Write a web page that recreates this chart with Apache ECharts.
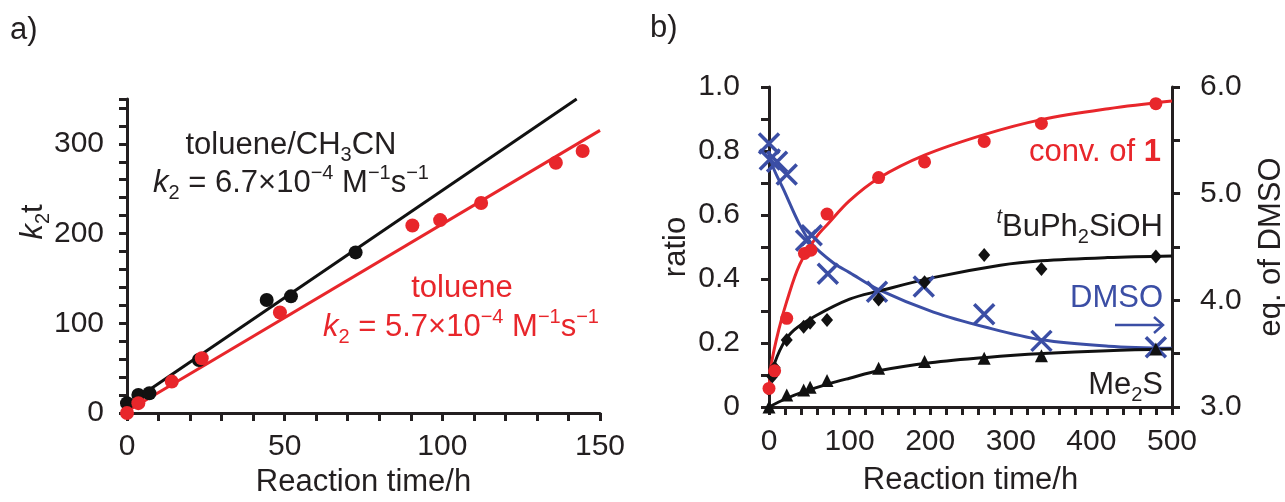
<!DOCTYPE html>
<html>
<head>
<meta charset="utf-8">
<script src="https://cdn.jsdelivr.net/npm/echarts@6/dist/echarts.min.js"></script>
<style>
  html, body { margin: 0; padding: 0; background: #fff; }
  #chart { width: 1285px; height: 502px; }
</style>
</head>
<body>
<div id="chart"></div>
<script>
// a) k2t vs time
const aTimeMixed = [0, 3.6, 7.1, 22.8, 44.3, 52, 72.5]
const aK2tMixed = [11, 20, 22, 59, 126, 130, 179]
const aTimeTol = [0, 3.6, 14.2, 23.7, 48.5, 90.5, 99.3, 112.3, 136, 144.5]
const aK2tTol = [0, 11, 35, 61, 112, 209, 215, 234, 279, 292]
const aFitMixedT = [0, 142.6]
const aFitMixedY = [9, 350]
const aFitTolT = [0, 150]
const aFitTolY = [2, 315]

// b) ratio / eq. of DMSO vs time
const bTimeConv = [0, 7, 22, 44, 52, 72, 136, 193, 267, 338, 480]
const bConv = [0.058, 0.113, 0.277, 0.48, 0.49, 0.603, 0.717, 0.766, 0.83, 0.886, 0.948]
const bTimeSil = [0, 4, 7, 22, 43, 51, 72, 136, 193, 267, 338, 480]
const bSil = [0.055, 0.095, 0.123, 0.209, 0.251, 0.263, 0.272, 0.336, 0.39, 0.475, 0.431, 0.47]
const bTimeMe2S = [0, 22, 43, 51, 72, 136, 193, 267, 338, 480]
const bMe2S = [0, 0.0375, 0.0535, 0.062, 0.083, 0.121, 0.142, 0.152, 0.16, 0.181]
const bTimeDmso = [0, 1, 10, 22, 46, 53, 73, 134, 192, 267, 338, 480]
const bDmsoEq = [5.47, 5.32, 5.30, 5.18, 4.56, 4.61, 4.25, 4.08, 4.13, 3.87, 3.62, 3.56]

// fitted curves
const bFitConvT = [0, 3, 12, 22, 38, 59, 73, 100, 136, 193, 268, 338, 421, 500]
const bFitConv = [0.055, 0.135, 0.24, 0.33, 0.445, 0.532, 0.572, 0.645, 0.715, 0.787, 0.852, 0.898, 0.932, 0.956]
const bFitSilT = [0, 4, 17, 31, 58, 100, 136, 205, 287, 338, 420, 500]
const bFitSil = [0.06, 0.115, 0.195, 0.24, 0.285, 0.337, 0.362, 0.405, 0.443, 0.457, 0.467, 0.472]
const bFitMeT = [0, 20, 40, 75, 100, 136, 200, 270, 340, 420, 500]
const bFitMe = [0, 0.025, 0.045, 0.073, 0.09, 0.113, 0.138, 0.155, 0.167, 0.176, 0.181]
const bFitDmsoT = [0, 5, 18, 38, 53, 80, 100, 136, 204, 268, 338, 421, 500]
const bFitDmso = [5.40, 5.25, 5.04, 4.71, 4.53, 4.35, 4.26, 4.10, 3.89, 3.75, 3.63, 3.57, 3.55]

const FF = "'Liberation Sans', Arial, sans-serif"
const INK = '#231f20'
const RED = '#e8262b'
const BLUE = '#3b4ea5'
const TXT = 31

const zip = (xs, ys) => xs.map((x, i) => [x, ys[i]])

function axisBase(extra) {
  return Object.assign({
    type: 'value',
    axisLine: { show: true, onZero: false, lineStyle: { color: INK, width: 3 } },
    axisTick: { show: true, inside: false, length: 8, lineStyle: { color: INK, width: 3 } },
    axisLabel: { color: INK, fontSize: 30, fontFamily: FF },
    splitLine: { show: false },
    nameTextStyle: { color: INK, fontSize: TXT, fontFamily: FF }
  }, extra)
}

function richFor(color) {
  return {
    k: { fontFamily: FF, fontSize: TXT, fontStyle: 'italic', fill: color },
    s: { fontFamily: FF, fontSize: 20, verticalAlign: 'bottom', fill: color },
    p: { fontFamily: FF, fontSize: 20, verticalAlign: 'top', fill: color },
    b: { fontFamily: FF, fontSize: TXT, fontWeight: 'bold', fill: color },
    i: { fontFamily: FF, fontSize: 20, fontStyle: 'italic', verticalAlign: 'top', fill: color }
  }
}

function label(text, x, y, color, align, extra) {
  return Object.assign({
    type: 'text',
    style: {
      text: text, x: x, y: y, fill: color,
      fontFamily: FF, fontSize: TXT, lineHeight: 40,
      textAlign: align, textVerticalAlign: 'middle',
      rich: richFor(color)
    }
  }, extra || {})
}

function curve(xIdx, yIdx, data, color) {
  return { type: 'line', xAxisIndex: xIdx, yAxisIndex: yIdx, data: data, showSymbol: false,
    smooth: 0.35, lineStyle: { color: color, width: 3 }, z: 2 }
}

function dots(xIdx, yIdx, data, symbol, size, color) {
  return { type: 'scatter', xAxisIndex: xIdx, yAxisIndex: yIdx, data: data, symbol: symbol,
    symbolSize: size, itemStyle: { color: color, opacity: 1 }, z: 3 }
}

const chart = echarts.init(document.getElementById('chart'), null, { renderer: 'canvas' })

chart.setOption({
  animation: false,
  backgroundColor: '#fff',
  grid: [
    { left: 127, top: 99, width: 473, height: 314, containLabel: false, outerBoundsMode: 'none' },
    { left: 769, top: 87, width: 403, height: 320, containLabel: false, outerBoundsMode: 'none' }
  ],
  xAxis: [
    axisBase({
      gridIndex: 0, min: 0, max: 150, interval: 10,
      name: 'Reaction time/h', nameLocation: 'middle', nameGap: 52,
      axisLabel: { color: INK, fontSize: 30, fontFamily: FF, margin: 19,
        formatter: v => (v % 50 === 0 ? String(v) : '') }
    }),
    axisBase({
      gridIndex: 1, min: 0, max: 500, interval: 20,
      name: 'Reaction time/h', nameLocation: 'middle', nameGap: 58,
      axisLabel: { color: INK, fontSize: 30, fontFamily: FF, margin: 20,
        formatter: v => (v % 100 === 0 ? String(v) : '') }
    })
  ],
  yAxis: [
    axisBase({
      gridIndex: 0, min: 0, max: 350, interval: 20,
      axisLabel: { color: INK, fontSize: 30, fontFamily: FF, margin: 23,
        formatter: v => (v % 100 === 0 ? String(v) : '') }
    }),
    axisBase({
      gridIndex: 1, min: 0, max: 1, interval: 0.1, position: 'left',
      name: 'ratio', nameLocation: 'middle', nameGap: 77,
      axisLabel: { color: INK, fontSize: 30, fontFamily: FF, margin: 29,
        formatter: v => {
          const k = Math.round(v * 10)
          if (k === 0) return '0'
          return k % 2 === 0 ? (k / 10).toFixed(1) : ''
        } }
    }),
    axisBase({
      gridIndex: 1, min: 3, max: 6, interval: 0.5, position: 'right',
      name: 'eq. of DMSO', nameLocation: 'middle', nameGap: 84,
      axisLabel: { color: INK, fontSize: 30, fontFamily: FF, margin: 28,
        formatter: v => (Math.abs(v - Math.round(v)) < 1e-6 ? v.toFixed(1) : '') }
    })
  ],
  series: [
    // panel a
    curve(0, 0, zip(aFitMixedT, aFitMixedY), '#111'),
    curve(0, 0, zip(aFitTolT, aFitTolY), RED),
    dots(0, 0, zip(aTimeMixed, aK2tMixed), 'circle', 14, '#111'),
    dots(0, 0, zip(aTimeTol, aK2tTol), 'circle', 14, RED),

    // panel b
    curve(1, 2, zip(bFitDmsoT, bFitDmso), BLUE),
    curve(1, 1, zip(bFitMeT, bFitMe), '#111'),
    curve(1, 1, zip(bFitSilT, bFitSil), '#111'),
    curve(1, 1, zip(bFitConvT, bFitConv), RED),
    { type: 'scatter', xAxisIndex: 1, yAxisIndex: 2, data: zip(bTimeDmso, bDmsoEq),
      symbol: 'path://M0,0L20,20M20,0L0,20', symbolSize: 20,
      itemStyle: { color: 'none', borderColor: BLUE, borderWidth: 3.5, opacity: 1 }, z: 3 },
    dots(1, 1, zip(bTimeMe2S, bMe2S), 'triangle', 13, '#111'),
    dots(1, 1, zip(bTimeSil, bSil), 'diamond', [12, 14], '#111'),
    dots(1, 1, zip(bTimeConv, bConv), 'circle', 13, RED)
  ],
  graphic: [
    label('a)', 10, 30, INK, 'left'),
    label('b)', 650, 28, INK, 'left'),
    label('{k|k}{s|2}t', 0, 0, INK, 'center', { x: 33, y: 222, rotation: Math.PI / 2 }),
    label('toluene/CH{s|3}CN', 291, 145, INK, 'center'),
    label('{k|k}{s|2} = 6.7×10{p|−4} M{p|−1}s{p|−1}', 291, 183, INK, 'center'),
    label('toluene', 462, 288, RED, 'center'),
    label('{k|k}{s|2} = 5.7×10{p|−4} M{p|−1}s{p|−1}', 461, 327, RED, 'center'),
    label('conv. of {b|1}', 1161, 152, RED, 'right'),
    label('{i|t}BuPh{s|2}SiOH', 1163, 227, INK, 'right'),
    label('DMSO', 1163, 298, BLUE, 'right'),
    label('Me{s|2}S', 1163, 385, INK, 'right'),
    {
      type: 'polyline',
      shape: { points: [[1115, 325], [1163, 325]] },
      style: { stroke: BLUE, lineWidth: 2.5, fill: null }
    },
    {
      type: 'polyline',
      shape: { points: [[1154, 317], [1163, 325], [1154, 333]] },
      style: { stroke: BLUE, lineWidth: 2.5, fill: null }
    }
  ]
})
</script>
</body>
</html>
